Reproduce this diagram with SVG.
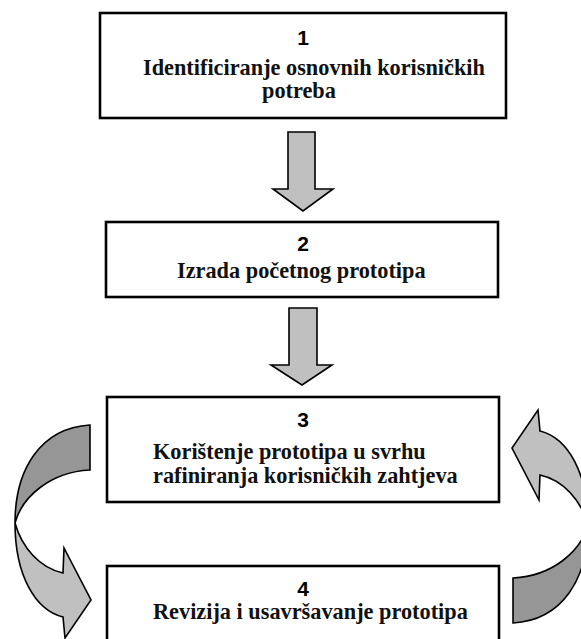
<svg xmlns="http://www.w3.org/2000/svg" width="581" height="639" viewBox="0 0 581 639">
<style>
.box{fill:#fff;stroke:#000;stroke-width:2.6}
.num{font-family:"Liberation Sans",Arial,sans-serif;font-weight:bold;font-size:21px;fill:#000;text-anchor:middle}
.lbl{font-family:"Liberation Serif","Times New Roman",serif;font-weight:bold;font-size:22.3px;fill:#111}
.arr{fill:#c0c0c0;stroke:#000;stroke-width:1.6;stroke-linejoin:miter}
.dark{fill:#969696;stroke:#000;stroke-width:1.6}
</style>
<defs>
<g id="curve">
<path class="dark" d="M90,425 C40,428 15,470 15,523 C22,497 50,472 90,470 Z"/>
<path class="arr" d="M15,523 C22,548 40,568 63,573 L64,548 L91,600 L65,638 L63,617 C35,610 15,575 15,523 Z"/>
</g>
</defs>
<g id="node1">
<rect class="box" x="100" y="13" width="406" height="105"/>
<text class="num" x="303" y="45">1</text>
<text class="lbl" x="143" y="75">Identificiranje osnovnih korisničkih</text>
<text class="lbl" x="262" y="98">potreba</text>
</g>
<g id="node2">
<rect class="box" x="106" y="222" width="392" height="75"/>
<text class="num" x="303" y="251">2</text>
<text class="lbl" x="177" y="278">Izrada početnog prototipa</text>
</g>
<g id="node3">
<rect class="box" x="107" y="397" width="392" height="105"/>
<text class="num" x="303" y="427">3</text>
<text class="lbl" x="153" y="459">Korištenje prototipa u svrhu</text>
<text class="lbl" x="153" y="483">rafiniranja korisničkih zahtjeva</text>
</g>
<g id="node4">
<rect class="box" x="107" y="566" width="392" height="90"/>
<text class="num" x="303" y="596">4</text>
<text class="lbl" x="153" y="619">Revizija i usavršavanje prototipa</text>
</g>
<g id="connectors">
<path class="arr" d="M288,132 L315,132 L315,189 L333,189 L303,211 L273,189 L288,189 Z"/>
<path class="arr" d="M289,308 L317,308 L317,365 L332,365 L302,385 L271,365 L289,365 Z"/>
<use href="#curve"/>
<use href="#curve" transform="rotate(180 301.5 524)"/>
</g>
</svg>
